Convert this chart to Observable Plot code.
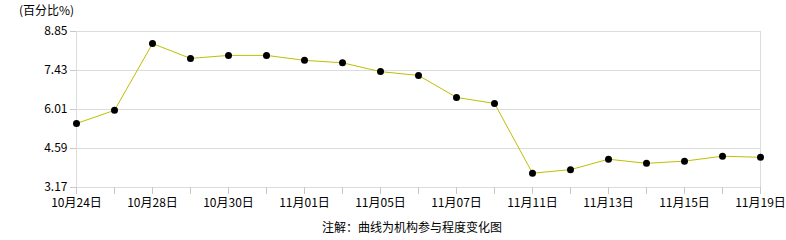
<!DOCTYPE html>
<html>
<head>
<meta charset="utf-8">
<script src="https://cdn.jsdelivr.net/npm/d3@7"></script>
<script src="https://cdn.jsdelivr.net/npm/@observablehq/plot@0.6"></script>
<style>
  body { margin: 0; background: #fff; font-family: "Noto Sans CJK SC", sans-serif; }
  #title { height: 20px; font-size: 12px; line-height: 20px; padding-left: 19px; color: #000; }
  #caption { font-size: 12px; line-height: 16px; margin-top: 7px; padding-left: 322px; color: #000; }
</style>
</head>
<body>
<div id="title">(百分比%)</div>
<div id="chart"></div>
<div id="caption">注解：曲线为机构参与程度变化图</div>
<script>
const dates = ["10月24日","10月25日","10月28日","10月29日","10月30日","10月31日","11月01日","11月04日","11月05日","11月06日","11月07日","11月08日","11月11日","11月12日","11月13日","11月14日","11月15日","11月18日","11月19日"];
const values = [5.50, 5.98, 8.41, 7.87, 7.98, 7.98, 7.80, 7.71, 7.39, 7.25, 6.45, 6.23, 3.69, 3.82, 4.20, 4.05, 4.13, 4.31, 4.27];
const yTicks = [3.17, 4.59, 6.01, 7.43, 8.85];
const shownLabels = ["10月24日","10月28日","10月30日","11月01日","11月05日","11月07日","11月11日","11月13日","11月15日","11月19日"];

const data = dates.map((d, i) => ({date: d, value: values[i]}));

const chart = Plot.plot({
  width: 786,
  height: 192,
  marginTop: 11,
  marginBottom: 25,
  marginLeft: 76,
  marginRight: 26,
  style: {fontFamily: "'Noto Sans CJK SC', sans-serif", fontSize: "12px", color: "#000", background: "#fff"},
  x: {type: "point", domain: dates, padding: 0},
  y: {domain: [3.17, 8.85]},
  marks: [
    Plot.gridY(yTicks, {stroke: "#dcdcdc", strokeOpacity: 1}),
    Plot.frame({stroke: "#dcdcdc"}),
    Plot.axisY(yTicks, {tickFormat: d => d.toFixed(2), tickSize: 6, tickPadding: 3, stroke: "#c8c8c8", label: null, fill: "#000"}),
    Plot.axisX(dates, {tickFormat: d => shownLabels.includes(d) ? d : "", tickSize: 7, tickPadding: 4, stroke: "#c8c8c8", label: null, fill: "#000"}),
    Plot.line(data, {x: "date", y: "value", stroke: "#bfbf00", strokeWidth: 1}),
    Plot.dot(data, {x: "date", y: "value", r: 3.5, fill: "#000", stroke: "none"})
  ]
});
document.getElementById("chart").appendChild(chart);
</script>
</body>
</html>
